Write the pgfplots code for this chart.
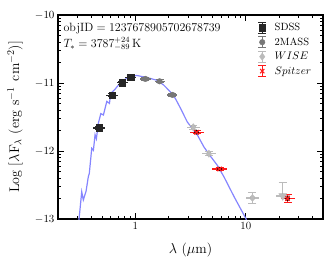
\documentclass[border=0pt]{standalone}
\usepackage{pgfplots}
\pgfplotsset{compat=1.18}
\usepackage{pgfplotstable}

\definecolor{sdss}{HTML}{262626}
\definecolor{tmass}{HTML}{777777}
\definecolor{wise}{HTML}{BBBBBB}
\definecolor{model}{HTML}{8585FF}
\definecolor{spz}{HTML}{FF1A1A}

\pgfplotstableread{
x y exp exm eyp eym
0.47 -11.66 0.066 0.058 0.02 0.02
0.62 -11.18 0.080 0.071 0.02 0.02
0.765 -10.995 0.093 0.083 0.02 0.02
0.91 -10.915 0.107 0.095 0.02 0.02
}\sdsstab

\pgfplotstableread{
x y exp exm eyp eym
1.235 -10.94 0.145 0.130 0.02 0.02
1.66 -10.975 0.183 0.164 0.02 0.02
2.17 -11.175 0.239 0.215 0.02 0.02
}\tmasstab

\pgfplotstableread{
x y exp exm eyp eym
3.35 -11.65 0.503 0.438 0.03 0.03
4.64 -12.04 0.696 0.608 0.03 0.03
11.5 -12.69 1.725 1.51 0.078 0.078
}\wisetab

\pgfplotstableread{
x y exp exm eyp eym
21.6 -12.66 3.41 2.94 0.19 0.0
}\wiselimtab

\pgfplotstableread{
x y exp exm eyp eym
3.59 -11.725 0.567 0.489 0.02 0.02
5.8 -12.265 0.986 0.842 0.02 0.02
23.9 -12.70 3.78 3.25 0.06 0.06
}\spztab

\pgfplotstableread{
x y
0.300 -13.2
0.310 -13.0
0.328 -12.60
0.339 -12.72
0.359 -12.59
0.376 -12.38
0.384 -12.33
0.404 -11.96
0.418 -11.99
0.433 -11.76
0.445 -11.82
0.464 -11.59
0.488 -11.45
0.515 -11.47
0.553 -11.27
0.584 -11.30
0.601 -11.15
0.650 -11.10
0.705 -11.03
0.783 -10.96
0.901 -10.90
1.036 -10.89
1.277 -10.92
1.575 -10.96
1.808 -11.03
2.080 -11.13
2.311 -11.23
2.564 -11.37
2.951 -11.57
3.276 -11.67
3.638 -11.76
4.180 -11.94
4.810 -12.08
5.530 -12.21
6.350 -12.38
7.830 -12.67
10.00 -12.99
10.30 -13.05
}\modeltab

\pgfplotsset{
  ebleg/.style={legend image code/.code={
    \draw[##1, line width=0.9pt, solid] (4pt,-5.5pt)--(4pt,5.5pt) (0pt,-5.5pt)--(8pt,-5.5pt) (0pt,5.5pt)--(8pt,5.5pt);
    \draw[##1] plot coordinates {(4pt,0pt)};}},
  xbars/.style={only marks, mark=none, forget plot,
    error bars/x dir=both, error bars/x explicit, error bars/error mark=none,
    error bars/error bar style={#1, line width=1.3pt}},
  ybars/.style={only marks, #1, ebleg,
    error bars/y dir=both, error bars/y explicit,
    error bars/error mark options={rotate=90, mark size=4pt, line width=1pt, #1},
    error bars/error bar style={#1, line width=1pt}},
}

\begin{document}
\begin{tikzpicture}
\begin{axis}[
  scale only axis, width=265pt, height=204pt,
  xmode=log, xmin=0.2, xmax=50, ymin=-13, ymax=-10,
  xtick={1,10}, xticklabels={1,10},
  minor xtick={0.2,0.3,0.4,0.5,0.6,0.7,0.8,0.9,2,3,4,5,6,7,8,9,20,30,40,50},
  ytick={-13,-12,-11,-10},
  minor ytick={-12.699,-12.523,-12.398,-12.301,-12.222,-12.155,-12.097,-12.046,
               -11.699,-11.523,-11.398,-11.301,-11.222,-11.155,-11.097,-11.046,
               -10.699,-10.523,-10.398,-10.301,-10.222,-10.155,-10.097,-10.046},
  tick align=inside, tick pos=both,
  major tick length=6pt, minor tick length=3.2pt,
  every tick/.style={black, line width=0.7pt},
  axis line style={line width=1.1pt},
  tick label style={font=\fontsize{11}{13}\selectfont},
  xlabel={$\lambda$ ($\mu$m)},
  ylabel={Log [$\lambda$F$_\lambda$ (erg s$^{-1}$\;\,cm$^{-2}$)]},
  label style={font=\fontsize{14}{16}\selectfont},
  xlabel style={at={(axis description cs:0.5,-0.152)}, anchor=center},
  ylabel style={at={(axis description cs:-0.162,0.5)}, anchor=center},
  legend style={at={(axis description cs:0.975,0.98)}, anchor=north east,
    draw=none, fill=none, font=\fontsize{10.5}{12}\selectfont,
    row sep=1.5pt, /tikz/every odd column/.append style={column sep=6pt}},
  legend cell align=left,
]
\coordinate (bl) at (rel axis cs:0,0);
\coordinate (tr) at (rel axis cs:1,1);

\addplot[model, line width=1.2pt, no marks, forget plot] table[x=x,y=y]{\modeltab};

\addplot[xbars=sdss] table[x=x,y=y,x error plus=exp,x error minus=exm]{\sdsstab};
\addplot[xbars=tmass] table[x=x,y=y,x error plus=exp,x error minus=exm]{\tmasstab};
\addplot[xbars=wise] table[x=x,y=y,x error plus=exp,x error minus=exm]{\wisetab};
\addplot[xbars=spz] table[x=x,y=y,x error plus=exp,x error minus=exm]{\spztab};

\addplot[ybars=sdss, mark=square*, mark size=3.2pt, mark options={solid, fill=sdss}]
  table[x=x,y=y,y error plus=eyp,y error minus=eym]{\sdsstab};
\addlegendentry{SDSS}
\addplot[ybars=tmass, mark=*, mark size=2.8pt, mark options={solid, fill=tmass}]
  table[x=x,y=y,y error plus=eyp,y error minus=eym]{\tmasstab};
\addlegendentry{2MASS}
\addplot[ybars=wise, mark=diamond*, mark size=3.6pt, mark options={solid, fill=wise}]
  table[x=x,y=y,y error plus=eyp,y error minus=eym]{\wisetab};
\addlegendentry{$WISE$}
\addplot[ybars=spz, mark=x, mark size=3pt, mark options={solid, line width=1pt}]
  table[x=x,y=y,y error plus=eyp,y error minus=eym]{\spztab};
\addlegendentry{$Spitzer$}

\addplot[xbars=wise] table[x=x,y=y,x error plus=exp,x error minus=exm]{\wiselimtab};
\addplot[ybars=wise, forget plot, mark=triangle*, mark size=4.5pt, mark options={solid, fill=wise, rotate=180}]
  table[x=x,y=y,y error plus=eyp,y error minus=eym]{\wiselimtab};
\addplot[ybars=spz, forget plot, mark=x, mark size=3pt, mark options={solid, line width=1pt}]
  table[x=x,y=y,y error plus=eyp,y error minus=eym]{\spztab};

\node[anchor=base west, font=\fontsize{12}{14}\selectfont, inner sep=0pt] at (rel axis cs:0.02,0.917)
  {$\mathrm{objID} = 1237678905702678739$};
\node[anchor=base west, font=\fontsize{12}{14}\selectfont, inner sep=0pt] at (rel axis cs:0.02,0.842)
  {$T_{*} = 3787^{+24}_{-89}\,\mathrm{K}$};
\end{axis}
\pgfresetboundingbox
\path[use as bounding box] ([shift={(-58pt,-47pt)}]bl) rectangle ([shift={(9pt,15pt)}]tr);
\end{tikzpicture}
\end{document}
